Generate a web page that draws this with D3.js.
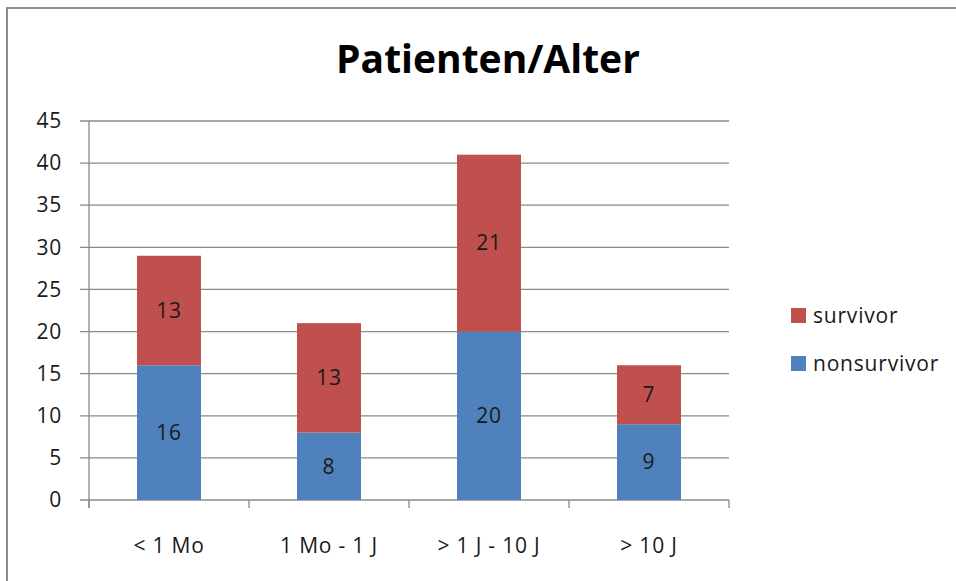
<!doctype html>
<html>
  <head>
    <script src="https://cdn.jsdelivr.net/npm/d3@7"></script>
    <style>
      body { margin: 0; background: #fff; }
      text { font-family: "Open Sans", Lato, sans-serif; fill: #1a1a1a; }
      .lbl { font-size: 21px; letter-spacing: 0.8px; }
    </style>
  </head>
  <body>
    <div id="chart"></div>
    <script>
      // chart data
      var categories = ["< 1 Mo", "1 Mo - 1 J", "> 1 J - 10 J", "> 10 J"];
      var nonsurvivor = [16, 8, 20, 9];
      var survivor = [13, 13, 21, 7];
      var yTicks = [0, 5, 10, 15, 20, 25, 30, 35, 40, 45];

      var width = 956, height = 581;
      var blue = "#4f81bd", red = "#c0504d";

      var svg = d3.select("#chart").append("svg")
        .attr("width", width)
        .attr("height", height);

      // outer frame (runs off the right and bottom edges)
      svg.append("rect")
        .attr("x", 7).attr("y", 8)
        .attr("width", 980).attr("height", 600)
        .attr("fill", "none")
        .attr("stroke", "#8c8c8c")
        .attr("stroke-width", 2);

      svg.append("text")
        .attr("x", 488).attr("y", 73)
        .attr("text-anchor", "middle")
        .style("font-size", "39px")
        .style("font-weight", "bold")
        .style("fill", "#000")
        .text("Patienten/Alter");

      var x = d3.scaleBand().domain(categories).range([89, 729])
        .paddingInner(0.6).paddingOuter(0.3);
      var y = d3.scaleLinear().domain([0, 45]).range([500, 121]);

      // grid lines
      svg.append("g").selectAll("line")
        .data(yTicks)
        .enter().append("line")
        .attr("x1", 80).attr("x2", 729)
        .attr("y1", function(d) { return y(d); })
        .attr("y2", function(d) { return y(d); })
        .attr("stroke", "#8a8a8a")
        .attr("stroke-width", 1.3);

      // y axis
      var yAxis = svg.append("g")
        .attr("transform", "translate(89,0)")
        .call(d3.axisLeft(y).tickValues(yTicks).tickSize(0).tickPadding(27));
      yAxis.select(".domain").remove();
      yAxis.selectAll("text").attr("class", "lbl").attr("fill", "#1a1a1a");
      svg.append("line")
        .attr("x1", 89).attr("x2", 89).attr("y1", 121).attr("y2", 508)
        .attr("stroke", "#8a8a8a").attr("stroke-width", 1.3);

      // x axis ticks between categories
      var bounds = categories.map(function(c) { return x(c) - x.step() * x.paddingInner() / 2; });
      bounds.push(729);
      svg.append("g").selectAll("line")
        .data(bounds)
        .enter().append("line")
        .attr("x1", function(d) { return d; })
        .attr("x2", function(d) { return d; })
        .attr("y1", 500).attr("y2", 508)
        .attr("stroke", "#8a8a8a").attr("stroke-width", 1.3);

      svg.append("g").selectAll("text")
        .data(categories)
        .enter().append("text")
        .attr("class", "lbl")
        .attr("x", function(d) { return x(d) + x.bandwidth() / 2; })
        .attr("y", 553)
        .attr("text-anchor", "middle")
        .text(function(d) { return d; });

      // stacked bars
      var rows = categories.map(function(c, i) {
        return { cat: c, nonsurvivor: nonsurvivor[i], survivor: survivor[i] };
      });
      var stack = d3.stack().keys(["nonsurvivor", "survivor"])(rows);
      var colors = { nonsurvivor: blue, survivor: red };

      var layers = svg.append("g").selectAll("g")
        .data(stack)
        .enter().append("g")
        .attr("fill", function(s) { return colors[s.key]; });

      layers.selectAll("rect")
        .data(function(s) { return s; })
        .enter().append("rect")
        .attr("x", function(d) { return x(d.data.cat); })
        .attr("width", x.bandwidth())
        .attr("y", function(d) { return y(d[1]); })
        .attr("height", function(d) { return y(d[0]) - y(d[1]); });

      layers.selectAll("text")
        .data(function(s) { return s; })
        .enter().append("text")
        .attr("class", "lbl")
        .attr("x", function(d) { return x(d.data.cat) + x.bandwidth() / 2; })
        .attr("y", function(d) { return (y(d[0]) + y(d[1])) / 2; })
        .attr("dy", "0.35em")
        .attr("text-anchor", "middle")
        .style("fill", "#1a1a1a")
        .text(function(d) { return d[1] - d[0]; });

      // legend
      var legend = [{ name: "survivor", color: red }, { name: "nonsurvivor", color: blue }];
      var lg = svg.append("g").selectAll("g")
        .data(legend)
        .enter().append("g")
        .attr("transform", function(d, i) { return "translate(791," + (308 + i * 48) + ")"; });
      lg.append("rect")
        .attr("width", 15).attr("height", 15)
        .attr("fill", function(d) { return d.color; });
      lg.append("text")
        .attr("class", "lbl")
        .attr("x", 22).attr("y", 15)
        .text(function(d) { return d.name; });
    </script>
  </body>
</html>
